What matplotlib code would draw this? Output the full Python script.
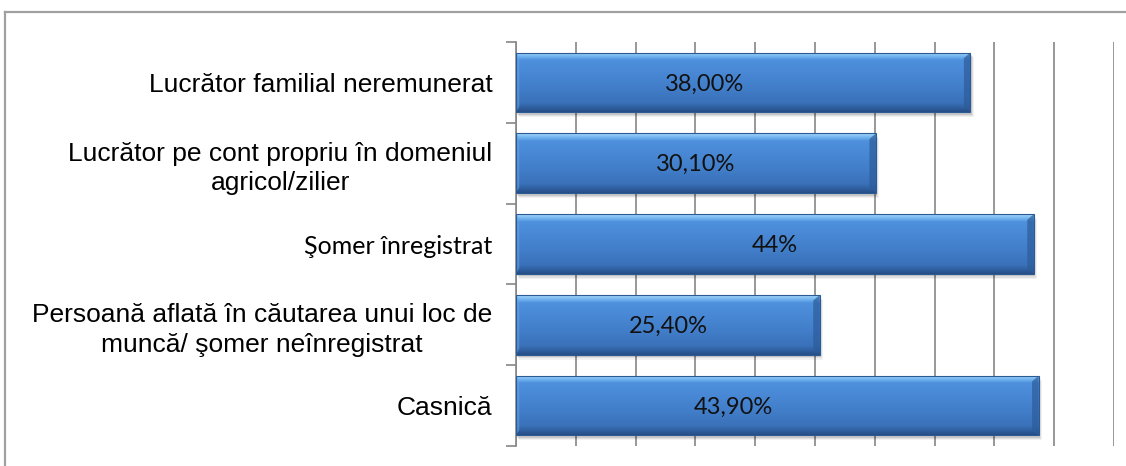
import matplotlib
matplotlib.use("Agg")
import matplotlib.pyplot as plt
import numpy as np
from matplotlib.patches import Rectangle, Polygon
from matplotlib.colors import LinearSegmentedColormap
from matplotlib.lines import Line2D

# ---- data ----
categories = [
    "Lucrător familial neremunerat",
    "Lucrător pe cont propriu în domeniul\nagricol/zilier",
    "Şomer înregistrat",
    "Persoană aflată în căutarea unui loc de\nmuncă/ şomer neînregistrat",
    "Casnică",
]
values = [38.0, 30.1, 43.3, 25.4, 43.7]
value_labels = ["38,00%", "30,10%", "44%", "25,40%", "43,90%"]
label_x = [15.8, 15.05, 21.65, 12.7, 18.2]
x_max = 50
grid_step = 5

W, H = 1126, 466
fig = plt.figure(figsize=(W / 100, H / 100), dpi=100)
fig.patch.set_facecolor("white")

left_px, right_px, top_px, bot_px = 516, 1114, 42, 446
ax = fig.add_axes([left_px / W, 1 - bot_px / H, (right_px - left_px) / W, (bot_px - top_px) / H])

n = len(categories)
ax.set_xlim(0, x_max)
ax.set_ylim(n - 0.5, -0.5)

# gridlines
ax.set_xticks(np.arange(0, x_max + 0.1, grid_step))
ax.tick_params(axis="x", length=0, labelbottom=False)
ax.grid(axis="x", color="#868686", linewidth=1.2, zorder=0)
ax.set_axisbelow(True)

for s in ["top", "right", "bottom"]:
    ax.spines[s].set_visible(False)
ax.spines["left"].set_color("#868686")
ax.spines["left"].set_linewidth(1.2)

# y ticks at category boundaries
ax.set_yticks(np.arange(-0.5, n, 1.0))
ax.tick_params(axis="y", which="major", length=7, width=1.2, color="#868686", labelleft=False)
ax.set_yticks(np.arange(n), categories, minor=True)
ax.tick_params(axis="y", which="minor", length=0, pad=17)
for i, t in enumerate(ax.get_yticklabels(minor=True)):
    t.set_multialignment("center")
    t.set_linespacing(1.3)
    if i == 2:
        t.set_fontfamily(["Lato", "DejaVu Sans"])
        t.set_fontsize(18)
    else:
        t.set_fontfamily(["Liberation Sans", "DejaVu Sans"])
        t.set_fontsize(19)
    t.set_color("#000000")

bar_h = 0.74
grad = LinearSegmentedColormap.from_list(
    "bev",
    [(0.0, "#a6d6fa"), (0.06, "#78b8f2"), (0.13, "#4e90dc"),
     (0.55, "#4380cc"), (0.85, "#3a71b9"), (0.93, "#2f5f9f"), (1.0, "#264e85")],
)
gimg = np.linspace(0, 1, 200).reshape(-1, 1)

bx = 0.55   # bevel width in data x
by = 0.07   # bevel height in data y
for i, (v, lab, lx) in enumerate(zip(values, value_labels, label_x)):
    y0 = i - bar_h / 2
    y1 = i + bar_h / 2
    # shadow
    for k, a in enumerate([0.10, 0.08, 0.05]):
        off_x = 0.12 + 0.08 * k
        off_y = 0.03 + 0.015 * k
        ax.add_patch(Rectangle((off_x, y0 + off_y), v, bar_h, facecolor="#000000",
                               alpha=a, edgecolor="none", zorder=2))
    rect = Rectangle((0, y0), v, bar_h, facecolor="none", edgecolor="none", zorder=3)
    ax.add_patch(rect)
    im = ax.imshow(gimg, cmap=grad, aspect="auto", extent=(0, v, y1, y0),
                   interpolation="bilinear", zorder=3)
    im.set_clip_path(rect)
    # right bevel (darker)
    ax.add_patch(Polygon([(v, y0), (v, y1), (v - bx, y1 - by), (v - bx, y0 + by)],
                         closed=True, facecolor="#2c5c9a", alpha=0.7, edgecolor="none", zorder=4))
    # left bevel (slightly lighter)
    ax.add_patch(Polygon([(0, y0), (0, y1), (bx * 0.5, y1 - by), (bx * 0.5, y0 + by)],
                         closed=True, facecolor="#6aa6e6", alpha=0.5, edgecolor="none", zorder=4))
    ax.add_patch(Rectangle((0, y0), v, bar_h, facecolor="none", edgecolor="#2b5a94",
                           linewidth=0.8, zorder=5))
    ax.text(lx, i + 0.02, lab, ha="center", va="center", fontsize=17,
            family=["Lato", "DejaVu Sans"], color="#111111", zorder=6)

ax.set_xlim(0, x_max)
ax.set_ylim(n - 0.5, -0.5)

# outer frame (partially visible)
fig.add_artist(Line2D([5 / W, 1.0], [1 - 12 / H, 1 - 12 / H], color="#a0a0a0", linewidth=1.6))
fig.add_artist(Line2D([5 / W, 5 / W], [0, 1 - 12 / H], color="#a0a0a0", linewidth=1.6))

fig.savefig("out.png", dpi=100, facecolor="white")
